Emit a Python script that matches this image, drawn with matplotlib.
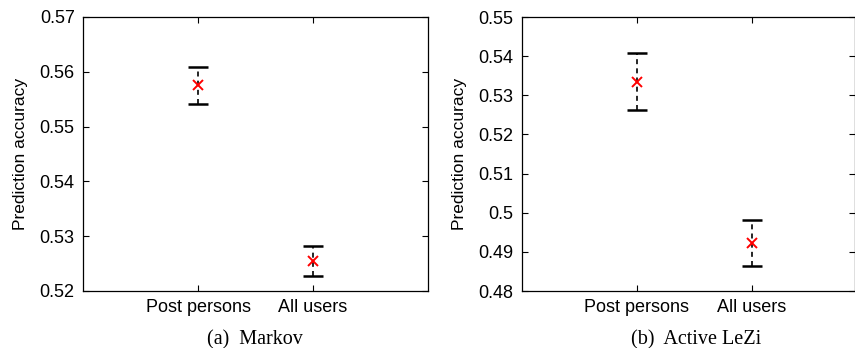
import matplotlib
matplotlib.use("Agg")
import matplotlib.pyplot as plt

categories = ["Post persons", "All users"]

markov_mean = [0.5575, 0.5255]
markov_upper = [0.5609, 0.5283]
markov_lower = [0.5541, 0.5227]

lezi_mean = [0.5335, 0.4922]
lezi_upper = [0.5407, 0.4982]
lezi_lower = [0.5263, 0.4865]

markov_yticks = [0.52, 0.53, 0.54, 0.55, 0.56, 0.57]
lezi_yticks = [0.48, 0.49, 0.5, 0.51, 0.52, 0.53, 0.54, 0.55]

plt.rcParams["font.family"] = ["Liberation Sans", "DejaVu Sans"]

fig = plt.figure(figsize=(8.55, 3.48), dpi=100)
W, H = 855, 348
ax1 = fig.add_axes([83 / W, 1 - 291 / H, 345 / W, 274 / H])
ax2 = fig.add_axes([522 / W, 1 - 291 / H, 333 / W, 274 / H])


def draw(ax, mean, lower, upper, yticks, xmax, caption, cx):
    x = [1, 2]
    for xi, m, lo, hi in zip(x, mean, lower, upper):
        ax.plot([xi, xi], [lo, hi], color="black", lw=1.2, ls=(0, (3, 2.5)), zorder=2)
        ax.plot([xi], [lo], marker="_", ms=15, mew=1.8, color="black", zorder=3)
        ax.plot([xi], [hi], marker="_", ms=15, mew=1.8, color="black", zorder=3)
    ax.plot(x, mean, ls="none", marker="x", ms=7, mew=1.4, color="red", zorder=4)
    ax.set_xlim(0, xmax)
    ax.set_ylim(yticks[0], yticks[-1])
    ax.set_yticks(yticks)
    ax.set_yticklabels([f"{t:g}" for t in yticks], fontsize=13)
    ax.set_xticks(x)
    ax.set_xticklabels(categories, fontsize=13)
    ax.tick_params(direction="in", length=4, width=0.8, top=True, right=True, pad=6)
    ax.set_ylabel("Prediction accuracy", fontsize=12.5, labelpad=8)
    for s in ax.spines.values():
        s.set_linewidth(0.9)
    fig.text(cx / W, 1 - 340 / H, caption, ha="center", va="center",
             fontsize=14.5, family=["Liberation Serif", "DejaVu Serif"])


draw(ax1, markov_mean, markov_lower, markov_upper, markov_yticks, 3.0,
     "(a)  Markov", 255)
draw(ax2, lezi_mean, lezi_lower, lezi_upper, lezi_yticks, 2.9,
     "(b)  Active LeZi", 696)

fig.savefig("out.png", dpi=100)
